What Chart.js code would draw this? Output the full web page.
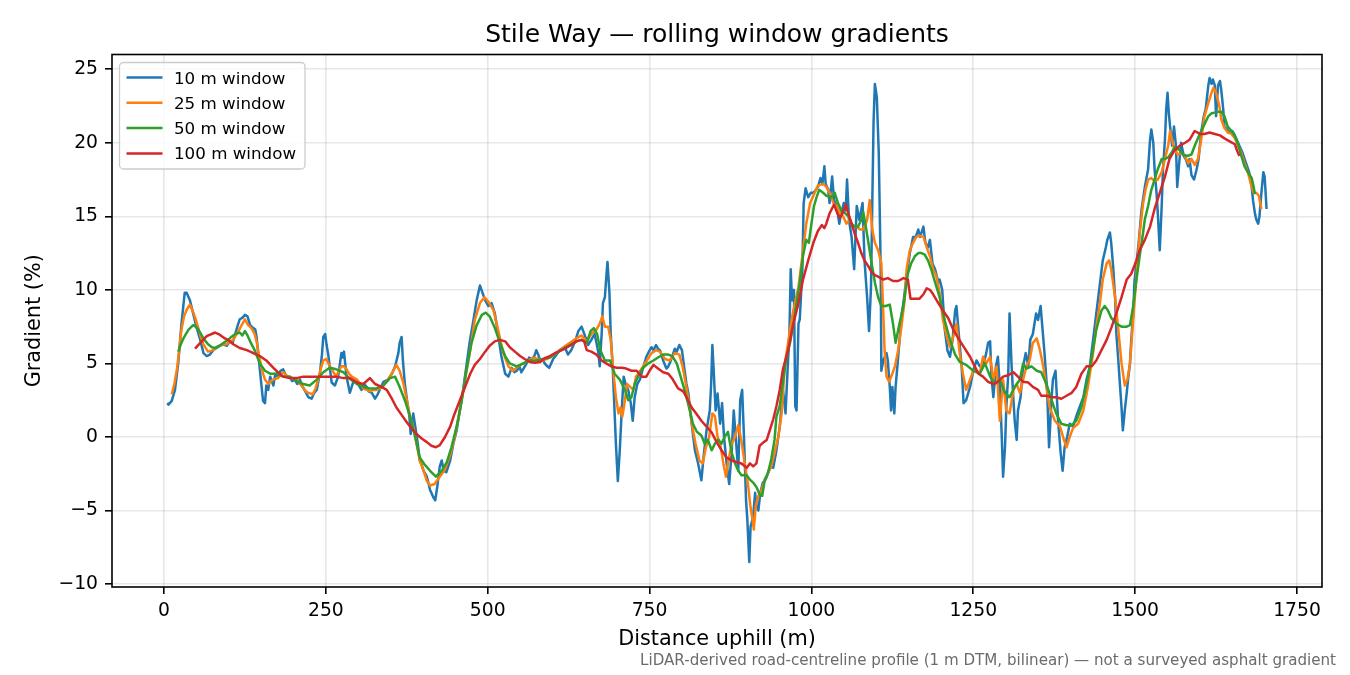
<!DOCTYPE html>
<html>
<head>
<meta charset="utf-8">
<title>Stile Way — rolling window gradients</title>
<script src="https://cdn.jsdelivr.net/npm/chart.js@4.4.1/dist/chart.umd.min.js"></script>
<style>
  html, body { margin: 0; padding: 0; background: #fff; }
  #wrap { width: 1350px; height: 675px; }
</style>
</head>
<body>
<div id="wrap"><canvas id="chart" width="1350" height="675"></canvas></div>
<script>
// values: [distance uphill (m), gradient (%)]
const seriesLabels = ['10 m window', '25 m window', '50 m window', '100 m window'];
const seriesColors = ['#1f77b4', '#ff7f0e', '#2ca02c', '#d62728'];
const xTicks = [0, 250, 500, 750, 1000, 1250, 1500, 1750];
const yTicks = [-10, -5, 0, 5, 10, 15, 20, 25];

const grad10m = [
  [5,2.3],[7,2.2],[12,2.45],[17,3.2],[22,5.0],[27,7.7],[32,9.8],[35,9.8],[40,9.3],[45,8.4],
  [50,7.5],[56,6.6],[61,5.7],[66,5.5],[71,5.6],[76,5.9],[81,6.05],[86,6.2],[92,6.3],[97,6.2],
  [102,6.5],[106,6.4],[110,7.0],[114,7.6],[117,8.0],[121,8.1],[125,8.3],[129,8.2],[133,7.6],[138,7.4],
  [141,7.3],[143,6.8],[148,4.6],[153,2.45],[156,2.3],[158,3.5],[161,3.2],[164,4.1],[169,3.5],[172,4.3],
  [176,4.1],[180,4.5],[184,4.6],[189,4.1],[194,4.1],[198,3.8],[202,3.9],[206,3.6],[210,3.9],[213,3.5],
  [217,3.2],[223,2.7],[228,2.6],[232,3.0],[236,3.2],[241,4.4],[244,5.6],[246,6.8],[249,7.0],[251,6.3],
  [254,5.5],[259,3.7],[264,3.5],[269,4.1],[274,5.7],[276,5.4],[278,5.8],[282,4.1],[287,3.0],[292,3.7],
  [297,3.9],[301,3.5],[305,3.2],[309,3.6],[313,3.4],[316,3.1],[321,3.0],[326,2.6],[330,2.9],[334,3.3],
  [339,3.75],[346,3.9],[352,4.3],[357,4.8],[362,5.7],[364,6.4],[367,6.8],[369,5.2],[372,3.6],[376,2.3],
  [379,1.4],[381,0.2],[385,1.6],[389,0.45],[392,-0.45],[395,-1.6],[398,-1.9],[401,-2.3],[406,-2.7],[411,-3.6],
  [416,-4.1],[419,-4.3],[422,-3.4],[426,-2.0],[429,-1.6],[432,-2.3],[436,-2.4],[442,-1.6],[447,-0.45],[452,0.45],
  [457,1.8],[462,3.2],[467,4.8],[472,6.4],[478,7.95],[483,9.3],[488,10.3],[492,9.8],[496,9.3],[501,8.9],
  [506,9.1],[511,8.4],[516,7.0],[521,5.5],[527,4.3],[532,4.1],[537,4.7],[541,4.4],[545,4.5],[549,4.8],
  [552,4.4],[556,4.7],[560,5.0],[564,5.4],[568,5.3],[572,5.5],[575,5.9],[578,5.6],[581,5.2],[585,5.3],
  [588,5.0],[592,4.8],[595,4.7],[598,5.0],[601,5.3],[604,5.45],[608,5.7],[611,5.9],[615,6.0],[619,6.1],
  [624,5.6],[629,5.9],[635,6.5],[640,7.2],[645,7.5],[650,6.9],[655,6.25],[660,6.6],[665,7.0],[668,6.4],
  [671,5.7],[673,4.8],[676,7.0],[678,9.1],[681,9.5],[683,10.8],[685,11.9],[688,9.8],[690,7.0],[693,4.8],
  [695,2.7],[698,-0.45],[701,-3.0],[704,-0.9],[707,1.8],[710,4.1],[713,3.6],[717,3.2],[721,2.3],[724,1.1],
  [727,2.7],[731,3.6],[735,3.9],[740,4.7],[745,5.45],[749,5.8],[753,6.1],[756,5.9],[760,6.25],[763,6.0],
  [766,5.9],[771,5.2],[776,4.65],[779,4.8],[782,5.1],[786,5.6],[789,6.0],[792,5.8],[796,6.25],[800,5.9],
  [804,4.55],[807,3.6],[810,2.95],[815,0.9],[820,-0.9],[825,-1.8],[830,-2.95],[834,-1.1],[838,0.45],[843,1.8],
  [845,3.5],[847,6.25],[849,4.55],[852,1.8],[855,2.95],[859,0.9],[862,2.3],[865,0.0],[869,-1.8],[873,-3.2],
  [877,-0.9],[880,1.8],[883,0.0],[887,-2.3],[890,2.5],[893,3.2],[896,-0.2],[899,-4.3],[901,-5.6],[904,-8.5],
  [906,-6.1],[910,-5.4],[913,-3.8],[915,-4.7],[918,-5.0],[921,-3.8],[925,-3.1],[928,-3.0],[931,-2.7],[936,-2.0],
  [941,-2.1],[946,-0.9],[951,0.7],[956,3.2],[960,1.6],[963,4.4],[966,7.0],[968,11.4],[970,9.3],[973,10.0],
  [975,2.1],[977,1.8],[980,7.7],[982,8.0],[986,11.4],[988,15.9],[991,16.9],[995,16.3],[999,16.6],[1003,16.6],
  [1007,16.8],[1010,17.0],[1014,17.6],[1017,17.2],[1020,18.4],[1022,17.2],[1026,16.8],[1028,15.9],[1032,17.7],[1035,16.1],
  [1039,15.7],[1043,14.5],[1046,15.2],[1050,15.9],[1053,15.4],[1055,17.5],[1058,14.75],[1062,13.6],[1066,11.4],[1070,15.7],
  [1074,14.75],[1079,15.9],[1082,12.0],[1086,9.5],[1089,7.2],[1092,10.2],[1094,15.9],[1096,21.5],[1098,24.0],[1101,23.1],
  [1104,19.3],[1107,11.4],[1108,4.5],[1111,5.2],[1116,5.7],[1118,5.2],[1121,3.4],[1123,1.8],[1125,3.4],[1128,1.6],
  [1130,3.4],[1134,5.45],[1139,8.2],[1142,9.1],[1147,10.9],[1152,12.5],[1157,13.6],[1161,13.6],[1165,14.1],[1168,13.6],
  [1173,14.3],[1176,13.2],[1180,12.9],[1183,13.4],[1187,11.8],[1191,11.4],[1196,10.5],[1198,10.7],[1202,10.0],[1206,7.3],
  [1210,5.9],[1214,5.45],[1218,6.6],[1222,8.6],[1224,8.9],[1228,6.8],[1232,4.8],[1235,2.3],[1239,2.5],[1245,3.4],
  [1250,4.5],[1255,5.2],[1260,4.8],[1265,4.8],[1270,5.7],[1273,6.4],[1276,6.5],[1278,4.1],[1281,2.7],[1285,4.8],
  [1288,5.45],[1291,3.4],[1294,0.0],[1296,-2.7],[1299,-0.7],[1301,2.0],[1304,4.3],[1306,8.4],[1309,5.0],[1312,2.5],
  [1314,1.1],[1317,-0.2],[1319,1.8],[1323,2.7],[1327,4.8],[1331,5.7],[1335,4.8],[1338,6.6],[1342,7.0],[1347,8.4],
  [1350,7.95],[1354,8.9],[1357,7.3],[1360,5.7],[1364,3.2],[1367,-0.7],[1371,2.7],[1373,3.9],[1377,4.5],[1381,1.1],
  [1385,-1.1],[1388,-2.3],[1391,-0.7],[1395,0.0],[1399,0.9],[1404,0.7],[1409,1.4],[1414,2.0],[1420,2.7],[1425,3.9],
  [1430,4.8],[1435,6.6],[1440,8.4],[1445,10.2],[1450,12.0],[1455,12.95],[1457,13.4],[1461,13.9],[1463,13.2],[1466,11.6],
  [1469,9.5],[1471,7.0],[1474,5.2],[1476,3.9],[1479,2.0],[1481,0.45],[1484,1.8],[1487,3.0],[1489,3.9],[1492,5.0],
  [1494,6.6],[1497,8.4],[1499,10.6],[1505,13.0],[1510,15.5],[1515,17.0],[1520,18.2],[1523,20.2],[1525,20.9],[1528,20.0],
  [1530,18.2],[1533,16.6],[1535,15.2],[1538,12.7],[1541,15.7],[1543,18.2],[1546,20.2],[1548,22.3],[1550,23.4],[1552,22.0],
  [1554,21.1],[1557,19.8],[1560,21.1],[1563,19.8],[1565,17.0],[1568,18.6],[1571,20.0],[1575,19.1],[1578,18.9],[1582,18.4],
  [1584,18.9],[1587,17.8],[1591,17.5],[1595,18.2],[1598,18.9],[1602,20.7],[1606,21.8],[1609,22.3],[1613,23.9],[1615,24.4],
  [1618,24.0],[1620,24.3],[1623,23.9],[1625,21.8],[1628,23.9],[1631,24.2],[1633,23.6],[1636,22.3],[1638,21.1],[1642,20.9],
  [1646,20.7],[1650,20.8],[1654,20.5],[1657,20.2],[1661,19.8],[1666,19.3],[1669,18.9],[1673,18.4],[1676,18.0],[1680,17.0],
  [1682,16.1],[1685,15.2],[1687,14.8],[1690,14.5],[1692,15.0],[1695,16.6],[1698,18.0],[1700,17.7],[1703,15.5]
];

const grad25m = [
  [12,2.9],[16,3.6],[20,4.6],[27,7.3],[31,8.2],[35,8.65],[40,9.0],[45,8.5],[49,8.0],[53,7.4],
  [57,6.8],[61,6.3],[68,5.8],[76,5.9],[81,6.1],[86,6.2],[91,6.3],[97,6.3],[102,6.5],[107,6.6],
  [111,6.9],[115,7.2],[120,7.6],[125,8.0],[130,7.6],[135,7.4],[140,7.0],[143,6.5],[146,5.7],[151,4.6],
  [156,3.9],[161,3.6],[165,3.8],[169,3.9],[176,4.0],[180,4.2],[184,4.4],[189,4.2],[194,4.0],[200,3.95],
  [205,3.9],[210,3.6],[215,3.35],[219,3.1],[223,3.0],[230,2.9],[234,3.3],[238,3.9],[242,4.6],[246,5.2],
  [251,5.3],[255,4.9],[259,4.6],[266,4.1],[270,4.5],[274,4.8],[278,4.8],[282,4.6],[286,4.3],[290,4.1],
  [298,3.9],[303,3.6],[308,3.3],[313,3.2],[318,3.1],[323,3.2],[328,3.2],[334,3.3],[339,3.5],[346,3.9],
  [353,4.4],[359,4.9],[364,4.5],[370,3.6],[375,2.5],[380,1.4],[385,0.7],[390,-0.45],[395,-1.6],[401,-2.3],
  [406,-3.0],[411,-3.3],[418,-3.2],[426,-2.7],[434,-2.2],[442,-1.25],[449,0.0],[457,1.8],[465,3.9],[473,5.9],
  [480,7.95],[488,9.1],[495,9.5],[501,9.2],[509,8.6],[516,7.3],[524,5.7],[532,4.8],[539,4.5],[547,4.8],
  [555,5.0],[563,5.2],[570,5.4],[578,5.3],[586,5.2],[596,5.4],[606,5.7],[617,6.1],[627,6.4],[637,6.7],
  [645,6.9],[653,6.5],[660,7.0],[668,7.3],[673,7.7],[677,8.2],[681,7.5],[686,7.5],[690,6.6],[694,4.5],
  [698,2.7],[702,1.6],[705,2.0],[708,1.4],[712,2.5],[715,3.6],[720,3.4],[725,3.2],[729,4.1],[734,4.4],
  [740,4.8],[746,5.2],[753,5.7],[760,5.9],[766,5.8],[774,5.3],[781,5.2],[789,5.7],[796,5.6],[801,4.8],
  [806,3.6],[811,2.3],[816,0.7],[821,-0.45],[827,-1.6],[832,-1.8],[837,-0.7],[842,0.0],[847,1.6],[851,1.4],
  [855,0.0],[859,-0.45],[864,-1.8],[868,-2.7],[871,-1.8],[877,-0.45],[882,0.0],[887,0.8],[892,-0.3],[897,-1.8],
  [902,-3.2],[906,-4.8],[909,-5.6],[911,-6.3],[914,-4.7],[918,-4.0],[923,-3.6],[928,-2.9],[933,-2.45],[938,-2.0],
  [943,-1.1],[949,0.05],[954,1.6],[959,5.0],[964,6.4],[968,7.6],[972,8.6],[976,9.4],[980,10.2],[986,12.3],
  [992,14.5],[998,15.9],[1003,16.4],[1010,17.1],[1018,17.2],[1023,17.0],[1028,16.6],[1034,15.9],[1039,15.7],[1044,15.2],
  [1049,15.0],[1054,14.5],[1059,14.75],[1064,14.3],[1070,14.3],[1075,14.1],[1080,14.1],[1086,14.75],[1090,16.1],[1094,14.1],
  [1098,13.2],[1103,12.7],[1108,11.8],[1111,8.4],[1113,5.9],[1116,4.1],[1120,3.75],[1124,4.2],[1129,4.8],[1134,5.9],
  [1139,7.5],[1144,9.3],[1147,11.4],[1152,12.7],[1157,13.2],[1162,13.6],[1167,13.7],[1173,13.6],[1178,12.9],[1183,12.3],
  [1188,11.4],[1193,10.9],[1198,9.8],[1203,8.0],[1209,6.8],[1214,6.1],[1219,6.8],[1224,7.7],[1229,5.7],[1234,4.3],
  [1239,3.2],[1245,3.9],[1250,4.5],[1255,4.5],[1260,4.3],[1265,5.45],[1270,5.0],[1276,5.45],[1281,3.9],[1286,4.8],
  [1291,1.1],[1296,3.9],[1301,1.8],[1306,1.6],[1312,3.2],[1317,3.6],[1322,3.0],[1327,3.9],[1332,4.8],[1337,5.2],
  [1342,6.4],[1348,6.7],[1353,5.9],[1358,4.8],[1363,3.4],[1368,2.0],[1376,1.1],[1384,0.7],[1390,-0.2],[1394,-0.7],
  [1399,0.0],[1404,0.6],[1412,0.9],[1420,1.8],[1427,3.4],[1435,5.7],[1440,7.5],[1445,8.9],[1450,10.7],[1456,11.8],
  [1460,12.0],[1463,11.4],[1469,9.5],[1474,7.3],[1479,5.0],[1484,3.5],[1488,3.9],[1492,5.0],[1497,8.0],[1502,10.9],
  [1507,13.8],[1512,15.8],[1516,16.8],[1520,17.5],[1525,17.6],[1530,17.4],[1535,17.5],[1541,18.0],[1546,18.9],[1551,19.8],
  [1554,20.8],[1558,20.0],[1561,19.5],[1566,19.2],[1571,19.3],[1577,19.1],[1582,18.6],[1587,18.9],[1592,18.5],[1597,18.9],
  [1602,20.2],[1607,21.8],[1613,22.7],[1618,23.4],[1621,23.75],[1625,23.4],[1630,22.5],[1633,21.6],[1638,21.0],[1643,20.7],
  [1649,20.6],[1654,20.3],[1659,19.8],[1664,19.3],[1669,18.6],[1674,18.0],[1680,17.0],[1683,16.6],[1687,16.6],[1691,16.4],
  [1695,15.5]
];

const grad50m = [
  [22,5.8],[26,6.3],[30,6.7],[34,7.0],[38,7.3],[45,7.6],[49,7.5],[53,7.3],[57,7.0],[61,6.7],
  [68,6.3],[74,6.1],[79,6.05],[84,6.15],[89,6.3],[94,6.45],[99,6.6],[104,6.8],[110,7.0],[117,7.1],
  [121,6.9],[125,7.2],[129,6.9],[133,6.5],[140,5.9],[148,5.0],[156,4.5],[164,4.3],[174,4.3],[184,4.1],
  [194,4.1],[205,3.8],[215,3.6],[225,3.5],[236,3.9],[246,4.4],[256,4.7],[266,4.6],[277,4.4],[287,3.95],
  [298,3.6],[308,3.4],[318,3.3],[328,3.3],[339,3.5],[349,4.0],[357,4.1],[364,3.4],[372,2.5],[380,1.4],
  [388,0.0],[395,-1.4],[403,-1.9],[411,-2.3],[420,-2.7],[429,-2.3],[437,-1.7],[444,-0.7],[452,0.7],[460,2.5],
  [467,4.5],[475,6.4],[483,7.6],[491,8.3],[497,8.45],[503,8.2],[511,7.4],[519,6.4],[527,5.5],[534,5.0],
  [545,4.8],[555,5.0],[565,5.2],[575,5.2],[586,5.3],[596,5.4],[606,5.7],[617,6.0],[627,6.25],[637,6.5],
  [645,6.6],[653,6.4],[659,7.2],[664,7.4],[669,7.0],[674,5.9],[681,5.2],[689,5.2],[696,4.3],[704,3.9],
  [712,3.2],[717,2.5],[722,2.7],[727,3.6],[732,4.1],[740,4.7],[748,5.0],[756,5.2],[763,5.4],[771,5.6],
  [779,5.6],[785,5.5],[792,5.0],[798,4.1],[804,3.2],[811,2.0],[817,0.9],[823,0.35],[830,0.1],[835,-0.45],
  [840,-0.2],[846,-0.9],[851,-0.45],[856,-0.2],[861,-0.45],[866,0.0],[871,0.35],[877,-1.1],[882,-1.8],[887,-2.3],
  [892,-2.6],[900,-2.6],[905,-2.9],[910,-3.1],[915,-3.4],[920,-3.9],[924,-4.0],[928,-2.9],[933,-2.45],[938,-1.5],
  [943,-0.2],[946,1.4],[951,2.1],[956,3.7],[961,5.3],[967,6.4],[974,8.2],[982,10.5],[987,12.3],[992,13.4],
  [996,13.2],[1000,14.5],[1004,15.7],[1008,16.3],[1012,16.8],[1018,16.6],[1023,16.4],[1031,16.3],[1036,16.6],[1041,15.9],
  [1046,15.4],[1052,15.2],[1057,15.0],[1062,14.5],[1067,14.3],[1072,14.3],[1077,14.75],[1080,15.3],[1084,14.3],[1088,13.2],
  [1093,11.8],[1098,10.5],[1103,9.5],[1108,8.9],[1115,8.9],[1121,9.0],[1126,7.7],[1130,6.4],[1135,7.5],[1142,8.9],
  [1149,11.1],[1154,11.8],[1160,12.3],[1165,12.5],[1170,12.5],[1175,12.4],[1180,12.0],[1185,11.4],[1191,10.5],[1198,9.5],
  [1206,7.9],[1214,6.6],[1222,5.6],[1229,5.1],[1239,4.9],[1250,4.5],[1260,4.3],[1268,5.0],[1276,4.1],[1283,3.6],
  [1291,3.9],[1299,3.0],[1306,2.7],[1314,3.4],[1322,3.9],[1327,5.0],[1332,4.65],[1340,4.8],[1348,4.5],[1355,4.4],
  [1363,3.6],[1371,2.5],[1378,1.6],[1386,0.9],[1394,0.8],[1402,0.8],[1409,1.1],[1417,2.0],[1425,3.6],[1433,5.45],
  [1440,7.3],[1448,8.6],[1453,8.9],[1458,8.6],[1463,8.1],[1471,7.7],[1479,7.5],[1487,7.5],[1492,7.6],[1497,8.9],
  [1502,10.7],[1507,12.3],[1512,13.8],[1515,14.8],[1520,15.7],[1525,16.8],[1530,17.5],[1535,18.2],[1541,18.9],[1546,18.9],
  [1551,19.0],[1556,19.3],[1561,19.7],[1569,19.5],[1574,19.2],[1580,19.1],[1587,19.2],[1592,19.8],[1597,20.3],[1602,20.8],
  [1607,21.25],[1613,21.8],[1618,22.0],[1623,22.05],[1628,22.1],[1633,22.1],[1638,21.8],[1643,21.1],[1649,20.8],[1654,20.45],
  [1659,19.9],[1664,19.1],[1669,18.4],[1674,18.0],[1680,17.6],[1683,17.0],[1685,16.5]
];

const grad100m = [
  [48,6.0],[56,6.4],[66,6.85],[79,7.1],[86,6.95],[94,6.7],[99,6.6],[107,6.3],[117,6.05],[128,5.9],
  [138,5.7],[148,5.5],[158,5.2],[169,4.7],[176,4.4],[184,4.1],[194,4.0],[205,4.0],[215,4.1],[225,4.1],
  [236,4.1],[246,4.1],[256,4.1],[266,4.1],[277,4.0],[287,4.0],[298,3.7],[308,3.6],[318,4.0],[326,3.6],
  [336,3.4],[344,3.2],[352,2.6],[359,2.0],[367,1.5],[375,1.0],[382,0.6],[390,0.2],[398,-0.1],[406,-0.35],
  [413,-0.6],[420,-0.7],[426,-0.55],[434,0.0],[442,0.7],[449,1.6],[457,2.5],[465,3.4],[473,4.3],[480,4.9],
  [488,5.3],[496,5.8],[503,6.2],[511,6.5],[519,6.6],[527,6.5],[534,6.1],[542,5.8],[550,5.5],[557,5.3],
  [565,5.1],[573,5.05],[581,5.1],[588,5.35],[596,5.5],[606,5.75],[617,5.95],[627,6.2],[637,6.5],[645,6.6],
  [649,6.5],[653,5.9],[660,5.8],[668,5.6],[676,5.2],[683,5.0],[691,4.8],[699,4.7],[707,4.7],[714,4.65],
  [722,4.5],[730,4.5],[738,4.1],[745,4.1],[750,4.5],[756,4.9],[763,4.65],[771,4.4],[779,4.3],[786,3.9],
  [794,3.3],[802,3.1],[807,2.7],[815,2.0],[822,1.6],[830,1.1],[838,0.7],[846,0.3],[853,-0.3],[861,-0.9],
  [869,-1.4],[877,-1.6],[884,-1.7],[892,-1.8],[900,-2.1],[905,-1.8],[910,-2.0],[915,-1.8],[920,-0.6],[925,-0.4],
  [931,-0.2],[936,0.5],[941,1.2],[946,2.1],[951,3.2],[956,4.6],[964,5.9],[972,7.7],[980,9.1],[987,10.7],
  [995,12.0],[1003,13.2],[1010,14.0],[1016,14.4],[1020,14.2],[1023,14.5],[1028,15.2],[1035,15.8],[1040,15.2],[1044,14.9],
  [1048,15.2],[1053,15.8],[1057,15.2],[1062,14.5],[1067,13.8],[1072,13.2],[1077,12.5],[1082,12.0],[1088,11.6],[1093,11.2],
  [1098,11.0],[1103,10.9],[1111,10.7],[1118,10.8],[1126,10.6],[1134,10.6],[1142,10.8],[1149,10.7],[1153,9.4],[1160,9.4],
  [1167,9.4],[1173,9.7],[1178,10.1],[1183,10.0],[1188,9.7],[1196,9.1],[1203,8.6],[1211,8.1],[1219,7.3],[1227,6.7],
  [1237,6.0],[1245,5.45],[1250,5.0],[1258,4.3],[1265,4.1],[1273,3.75],[1281,3.6],[1288,3.75],[1296,4.1],[1304,4.2],
  [1312,4.4],[1319,4.1],[1327,3.75],[1335,3.7],[1342,3.4],[1350,3.2],[1355,2.8],[1363,2.8],[1371,2.7],[1378,2.7],
  [1386,2.6],[1394,2.8],[1402,3.0],[1409,3.4],[1417,4.3],[1425,4.8],[1433,4.8],[1440,5.2],[1448,5.9],[1456,6.6],
  [1463,7.4],[1471,8.4],[1479,9.5],[1487,10.7],[1494,11.1],[1502,12.0],[1507,12.7],[1515,13.4],[1523,14.3],[1530,15.5],
  [1538,16.6],[1546,17.7],[1553,18.9],[1561,19.5],[1569,19.8],[1577,20.0],[1584,20.2],[1592,20.8],[1600,20.6],[1607,20.6],
  [1615,20.7],[1623,20.6],[1631,20.5],[1638,20.3],[1646,20.1],[1654,19.9],[1657,19.5],[1661,19.1]
];

const allSeries = [grad10m, grad25m, grad50m, grad100m];

Chart.defaults.font.family = "'DejaVu Sans', sans-serif";
Chart.defaults.color = '#000';

function fmtTick(v) {
  return v < 0 ? '\u2212' + Math.abs(v) : String(v);
}

const datasets = allSeries.map((s, i) => ({
  label: seriesLabels[i],
  data: s.map(p => ({ x: p[0], y: p[1] })),
  borderColor: seriesColors[i],
  backgroundColor: seriesColors[i],
  borderWidth: 2.5,
  pointRadius: 0,
  tension: 0,
  fill: false,
  borderJoinStyle: 'round',
  order: allSeries.length - i
}));

// title, frame, legend and source note, drawn the way matplotlib lays them out
const decor = {
  id: 'decor',
  beforeDraw(chart) {
    const ctx = chart.ctx;
    ctx.save();
    ctx.fillStyle = '#fff';
    ctx.fillRect(0, 0, chart.width, chart.height);
    ctx.restore();
  },
  afterDraw(chart) {
    const ctx = chart.ctx;
    const a = chart.chartArea;
    ctx.save();

    // axes frame
    ctx.strokeStyle = '#000';
    ctx.lineWidth = 1.6;
    ctx.strokeRect(a.left, a.top, a.right - a.left, a.bottom - a.top);

    // title
    ctx.fillStyle = '#000';
    ctx.font = "25px 'DejaVu Sans', sans-serif";
    ctx.textAlign = 'center';
    ctx.textBaseline = 'alphabetic';
    ctx.fillText('Stile Way — rolling window gradients', (a.left + a.right) / 2, 42);

    // legend box
    const lx = a.left + 7.5, ly = a.top + 8, lw = 185.5, lh = 106.5, r = 4;
    ctx.beginPath();
    ctx.moveTo(lx + r, ly);
    ctx.arcTo(lx + lw, ly, lx + lw, ly + lh, r);
    ctx.arcTo(lx + lw, ly + lh, lx, ly + lh, r);
    ctx.arcTo(lx, ly + lh, lx, ly, r);
    ctx.arcTo(lx, ly, lx + lw, ly, r);
    ctx.closePath();
    ctx.fillStyle = 'rgba(255,255,255,0.8)';
    ctx.fill();
    ctx.strokeStyle = '#cccccc';
    ctx.lineWidth = 1.3;
    ctx.stroke();

    ctx.font = "16.7px 'DejaVu Sans', sans-serif";
    ctx.textAlign = 'left';
    chart.data.datasets.forEach((ds, i) => {
      const cy = ly + 15 + i * 25.3;
      ctx.strokeStyle = ds.borderColor;
      ctx.lineWidth = 2.5;
      ctx.beginPath();
      ctx.moveTo(lx + 7, cy);
      ctx.lineTo(lx + 43, cy);
      ctx.stroke();
      ctx.fillStyle = '#000';
      ctx.fillText(ds.label, lx + 54.5, cy + 6);
    });

    // source note
    ctx.fillStyle = '#6b6b6b';
    ctx.font = "15.1px 'DejaVu Sans', sans-serif";
    ctx.textAlign = 'right';
    ctx.fillText('LiDAR-derived road-centreline profile (1 m DTM, bilinear) — not a surveyed asphalt gradient', 1336, 665);
    ctx.restore();
  }
};

const gridStyle = {
  color: 'rgba(176,176,176,0.3)',
  lineWidth: 1.6,
  drawTicks: true,
  tickLength: 7,
  tickColor: '#000',
  tickWidth: 1.6
};

new Chart(document.getElementById('chart'), {
  type: 'line',
  data: { datasets },
  options: {
    responsive: false,
    animation: false,
    devicePixelRatio: 1,
    parsing: true,
    layout: { padding: { left: 0, right: 28, top: 54.5, bottom: 0 } },
    plugins: {
      legend: { display: false },
      title: { display: false },
      tooltip: { enabled: false }
    },
    scales: {
      x: {
        type: 'linear',
        min: -80.3,
        max: 1788.6,
        afterBuildTicks: s => { s.ticks = xTicks.map(v => ({ value: v })); },
        afterFit: s => { s.height = 88; },
        grid: gridStyle,
        border: { display: false },
        ticks: { color: '#000', font: { size: 18.75 }, padding: 6, maxRotation: 0, autoSkip: false, callback: v => fmtTick(v) },
        title: { display: true, text: 'Distance uphill (m)', color: '#000', font: { size: 20.8 }, padding: { top: 0, bottom: 23 } }
      },
      y: {
        type: 'linear',
        min: -10.2,
        max: 26.0,
        afterBuildTicks: s => { s.ticks = yTicks.map(v => ({ value: v })); },
        afterFit: s => { s.width = 112; },
        grid: gridStyle,
        border: { display: false },
        ticks: { color: '#000', font: { size: 18.75 }, padding: 7, autoSkip: false, callback: v => fmtTick(v) },
        title: { display: true, text: 'Gradient (%)', color: '#000', font: { size: 20.8 }, padding: { top: 22, bottom: 0 } }
      }
    }
  },
  plugins: [decor]
});
</script>
</body>
</html>
